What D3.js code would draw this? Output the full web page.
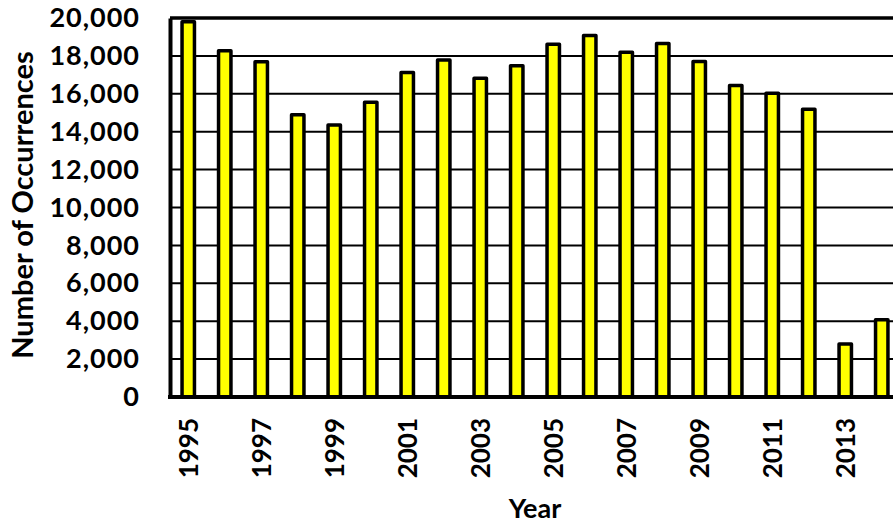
<!DOCTYPE html>
<html>
<head>
<meta charset="utf-8">
<script src="https://cdn.jsdelivr.net/npm/d3@7"></script>
<style>
  body { margin: 0; background: #fff; }
  svg { display: block; font-family: Lato, "Open Sans", sans-serif; font-weight: bold; }
</style>
</head>
<body>
<svg id="chart"></svg>
<script>
const years = ["1995", "1996", "1997", "1998", "1999", "2000", "2001", "2002", "2003", "2004",
  "2005", "2006", "2007", "2008", "2009", "2010", "2011", "2012", "2013", "2014"];
const occurrences = [19800, 18270, 17690, 14890, 14360, 15560, 17120, 17790, 16820, 17480,
  18620, 19080, 18190, 18650, 17700, 16440, 16030, 15190, 2800, 4070];
const yTicks = [0, 2000, 4000, 6000, 8000, 10000, 12000, 14000, 16000, 18000, 20000];
const xLabels = ["1995", "1997", "1999", "2001", "2003", "2005", "2007", "2009", "2011", "2013"];

const width = 893, height = 525;
const plotLeft = 170, plotRight = 900, plotTop = 18, plotBottom = 397;

const svg = d3.select("#chart").attr("width", width).attr("height", height);

const x = d3.scaleBand().domain(years).range([plotLeft, plotRight])
  .paddingInner(0.66).paddingOuter(0.33);
const y = d3.scaleLinear().domain([0, 20000]).range([plotBottom, plotTop]);

// gridlines
svg.append("g")
  .selectAll("line")
  .data(yTicks.filter(d => d > 0 && d < 20000))
  .join("line")
  .attr("x1", plotLeft).attr("x2", plotRight)
  .attr("y1", d => y(d)).attr("y2", d => y(d))
  .attr("stroke", "#000").attr("stroke-width", 2);

// top frame line
svg.append("line")
  .attr("x1", plotLeft).attr("x2", plotRight)
  .attr("y1", y(20000)).attr("y2", y(20000))
  .attr("stroke", "#000").attr("stroke-width", 3.5);

// bars
svg.append("g")
  .selectAll("rect")
  .data(years.map((yr, i) => ({ yr, v: occurrences[i] })))
  .join("rect")
  .attr("x", d => x(d.yr))
  .attr("y", d => y(d.v))
  .attr("width", x.bandwidth())
  .attr("height", d => y(0) - y(d.v))
  .attr("fill", "#ffff00")
  .attr("stroke", "#000")
  .attr("stroke-width", 3.5)
  .attr("stroke-linejoin", "round");

// y axis
const yAxis = svg.append("g")
  .attr("transform", `translate(${plotLeft},0)`)
  .call(d3.axisLeft(y).tickValues(yTicks).tickSize(0).tickPadding(30)
    .tickFormat(d3.format(",")));
yAxis.select(".domain").attr("stroke", "#000").attr("stroke-width", 4);
yAxis.selectAll("text")
  .attr("font-size", 27).attr("font-family", "Lato, sans-serif")
  .attr("font-weight", "bold").attr("fill", "#000")
  .attr("letter-spacing", 1);

// x axis
const xAxis = svg.append("g")
  .attr("transform", `translate(0,${plotBottom})`)
  .call(d3.axisBottom(x).tickValues(xLabels).tickSize(0).tickPadding(0));
xAxis.select(".domain").remove();
xAxis.selectAll("text")
  .attr("font-size", 26).attr("font-family", "Lato, sans-serif")
  .attr("font-weight", "bold").attr("fill", "#000")
  .attr("transform", "rotate(-90)")
  .attr("text-anchor", "end")
  .attr("x", -21).attr("y", 0).attr("dy", "0.36em");

svg.append("line")
  .attr("x1", plotLeft - 2).attr("x2", plotRight)
  .attr("y1", plotBottom).attr("y2", plotBottom)
  .attr("stroke", "#000").attr("stroke-width", 4);

// axis titles
svg.append("text")
  .attr("transform", "translate(33,205) rotate(-90)")
  .attr("text-anchor", "middle")
  .attr("font-size", 29).attr("fill", "#000")
  .text("Number of Occurrences");

svg.append("text")
  .attr("x", 535).attr("y", 518)
  .attr("text-anchor", "middle")
  .attr("font-size", 27).attr("fill", "#000")
  .text("Year");
</script>
</body>
</html>
